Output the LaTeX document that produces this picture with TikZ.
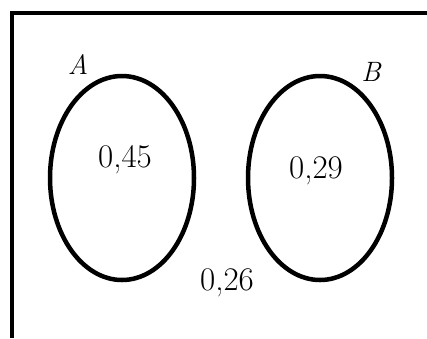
\documentclass[tikz,border=0pt]{standalone}
\usepackage{tikz}
\usetikzlibrary{shapes.geometric}

\begin{document}
\begin{tikzpicture}[
  x=1pt,y=-1pt,
  setline/.style={line width=4.5pt,black},
  setbox/.style={draw,setline,ellipse,inner sep=0pt,minimum width=144pt,minimum height=204pt},
  num/.style={font=\fontsize{33}{35}\selectfont,inner sep=0pt},
  lab/.style={font=\fontsize{28}{30}\selectfont\itshape,inner sep=0pt}]
  \useasboundingbox (0,0) rectangle (427,338);
  % universe (only left and top sides visible)
  \coordinate (ubot) at (12,338);
  \coordinate (utl) at (12,13);
  \coordinate (utr) at (427,13);
  \draw[setline] (ubot) -- (utl) -- (utr);
  % the two sets
  \node[setbox] (setA) at (122,178) {};
  \node[setbox] (setB) at (320,178) {};
  \node[lab] (labA) at (78,64) {A};
  \node[lab] (labB) at (371,72) {B};
  \node[num] (pA) at (125,160) {0,45};
  \node[num] (pB) at (316,171) {0,29};
  \node[num] (pN) at (227,283) {0,26};
\end{tikzpicture}
\end{document}
